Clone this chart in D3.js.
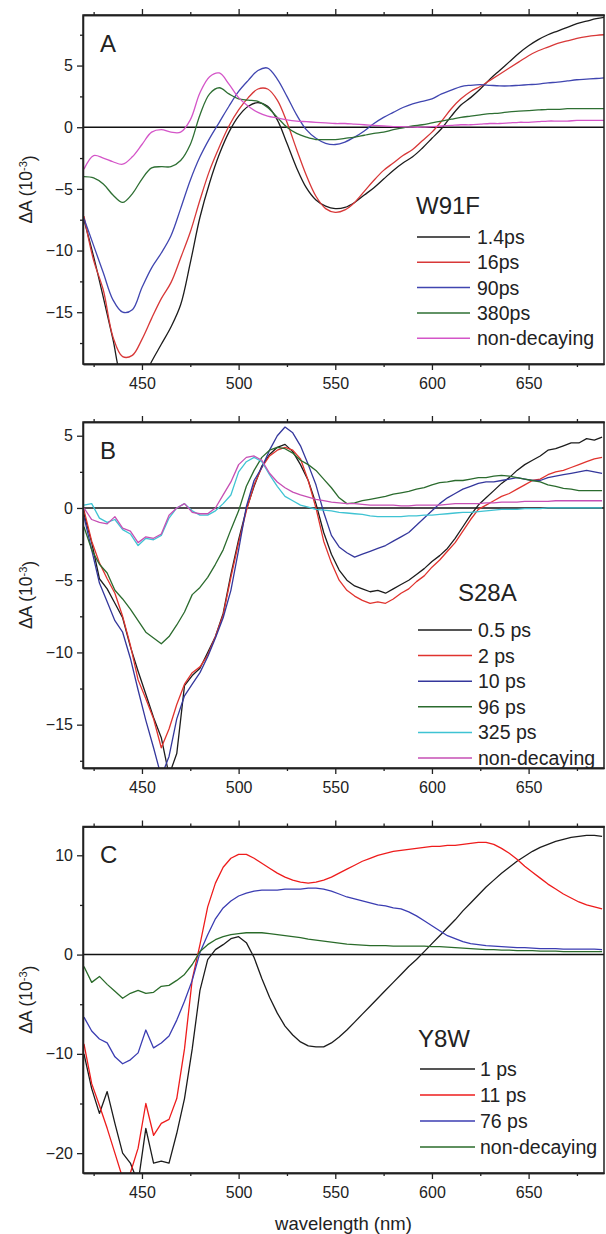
<!DOCTYPE html>
<html>
<head>
<meta charset="utf-8">
<script src="https://cdn.jsdelivr.net/npm/d3@7"></script>
<style>
  body { margin: 0; background: #fff; }
  text { font-family: "Liberation Sans", Arial, sans-serif; fill: #222; }
  .axis path, .axis line { stroke: #222; stroke-width: 1.3; }
</style>
</head>
<body>
<svg id="chart" width="606" height="1234"></svg>
<script>
// ---------- Panel A: W91F decay-associated spectra ----------
const waveA = [420,425,430,435,440,445,450,455,460,465,470,475,480,485,490,495,500,505,510,515,520,525,530,535,540,545,550,555,560,565,570,575,580,585,590,595,600,605,610,615,620,625,630,635,640,645,650,655,660,665,670,675,680,685,689];
const w91f_1_4ps = [-7.5,-10.5,-13.8,-17.2,-20.5,-21,-20.5,-19.0,-17.6,-16.2,-14.4,-11.0,-7.3,-4.5,-2.2,-0.4,0.9,1.7,2.0,1.7,0.6,-1.3,-3.3,-4.9,-5.9,-6.4,-6.6,-6.5,-6.1,-5.5,-4.9,-4.2,-3.5,-2.9,-2.4,-1.7,-0.9,-0.1,0.9,1.8,2.4,3.1,3.9,4.6,5.3,6.0,6.6,7.1,7.5,7.8,8.1,8.4,8.6,8.8,8.9];
const w91f_16ps = [-7.2,-10.8,-13.2,-17.0,-18.6,-18.5,-17.2,-15.5,-13.9,-12.6,-10.6,-8.5,-5.9,-3.5,-1.6,0.1,1.4,2.4,3.1,3.1,2.2,0.4,-1.8,-3.9,-5.6,-6.6,-6.9,-6.7,-6.1,-5.2,-4.3,-3.5,-2.9,-2.3,-1.8,-1.1,-0.4,0.5,1.5,2.3,2.9,3.3,3.8,4.3,4.8,5.3,5.8,6.2,6.5,6.8,7.0,7.2,7.35,7.45,7.5];
const w91f_90ps = [-7.4,-9.6,-11.8,-14.0,-15.0,-14.8,-13.0,-11.4,-10.2,-8.8,-6.6,-4.3,-2.4,-0.9,0.4,1.7,2.9,3.8,4.6,4.8,3.9,2.5,1.0,-0.2,-0.9,-1.3,-1.4,-1.2,-0.8,-0.3,0.3,0.8,1.2,1.6,1.9,2.1,2.3,2.7,3.0,3.3,3.4,3.45,3.4,3.35,3.35,3.4,3.45,3.5,3.6,3.65,3.75,3.85,3.9,3.95,4.0];
const w91f_380ps = [-4.0,-4.1,-4.6,-5.5,-6.1,-5.4,-4.2,-3.3,-3.2,-3.2,-2.7,-1.4,1.0,2.7,3.2,2.7,2.3,2.2,2.1,1.6,0.8,0.0,-0.5,-0.8,-1.0,-1.0,-1.0,-0.9,-0.8,-0.65,-0.5,-0.4,-0.2,-0.05,0.1,0.2,0.35,0.5,0.65,0.8,0.9,1.0,1.1,1.15,1.25,1.3,1.35,1.4,1.45,1.45,1.5,1.5,1.5,1.5,1.5];
const w91f_nondecaying = [-3.4,-2.3,-2.5,-2.8,-3.0,-2.4,-1.4,-0.4,-0.2,-0.4,-0.4,0.6,2.8,4.1,4.4,3.5,2.4,1.7,1.2,0.9,0.75,0.6,0.5,0.45,0.4,0.35,0.3,0.3,0.25,0.2,0.15,0.1,0.05,0.05,0.0,0.0,0.05,0.1,0.15,0.2,0.2,0.25,0.3,0.3,0.35,0.4,0.4,0.45,0.5,0.5,0.5,0.55,0.55,0.55,0.55];
const labelsA = ["1.4ps","16ps","90ps","380ps","non-decaying"];

// ---------- Panel B: S28A ----------
const waveB = [420,424,428,432,436,440,444,448,452,456,460,464,468,472,476,480,484,488,492,496,500,504,508,512,516,520,524,528,532,536,540,544,548,552,556,560,564,568,572,576,580,584,588,592,596,600,604,608,612,616,620,624,628,632,636,640,644,648,652,656,660,664,668,672,676,680,684,688];
const s28a_0_5ps = [-0.4,-2.4,-4.9,-5.6,-6.6,-7.6,-9.6,-11.3,-12.9,-14.5,-15.9,-18.5,-17.0,-12.3,-11.6,-11.1,-10.0,-8.9,-7.3,-4.6,-2.2,-0.1,1.5,2.9,3.7,4.2,4.4,3.9,3.0,1.9,0.3,-1.7,-3.2,-4.3,-5.0,-5.4,-5.6,-5.8,-5.7,-5.9,-5.6,-5.3,-5.0,-4.6,-4.2,-3.7,-3.3,-2.8,-2.1,-1.3,-0.5,0.2,0.7,1.2,1.7,2.1,2.6,3.0,3.3,3.6,4.0,4.1,4.3,4.5,4.5,4.8,4.7,4.9];
const s28a_2ps = [-0.15,-2.3,-3.8,-4.9,-5.9,-7.5,-9.5,-11.9,-13.2,-14.6,-16.6,-15.3,-13.6,-12.2,-11.4,-11.0,-10.2,-8.9,-7.4,-4.8,-2.4,-0.2,1.6,2.8,3.6,4.0,4.2,4.0,3.4,1.9,0.0,-2.3,-3.8,-5.0,-5.7,-6.1,-6.4,-6.6,-6.5,-6.6,-6.3,-5.9,-5.6,-5.1,-4.7,-4.1,-3.6,-3.0,-2.4,-1.6,-0.8,-0.1,0.2,0.5,0.8,1.0,1.3,1.6,1.9,2.0,2.3,2.5,2.6,2.8,3.0,3.2,3.4,3.5];
const s28a_10ps = [-0.6,-2.9,-5.2,-6.5,-7.8,-8.6,-10.4,-12.6,-14.7,-16.6,-18.6,-17.2,-14.6,-13.0,-12.2,-11.4,-10.3,-9.0,-7.6,-5.7,-2.9,0.1,1.9,2.8,4.0,5.0,5.6,5.2,4.3,3.0,1.6,-0.3,-1.9,-2.7,-3.1,-3.4,-3.2,-3.0,-2.8,-2.6,-2.3,-2.0,-1.7,-1.2,-0.7,-0.2,0.3,0.7,1.0,1.3,1.5,1.7,1.8,1.8,1.9,2.0,2.1,2.0,1.9,1.9,2.1,2.2,2.3,2.4,2.5,2.6,2.5,2.4];
const s28a_96ps = [-1.3,-2.9,-3.9,-4.5,-5.7,-6.3,-7.0,-7.8,-8.6,-9.0,-9.4,-8.9,-8.1,-7.2,-6.0,-5.5,-4.8,-3.9,-2.9,-1.5,-0.2,1.5,2.6,3.5,4.0,4.2,4.1,3.8,3.3,3.0,2.6,2.0,1.4,0.7,0.3,0.35,0.5,0.6,0.7,0.8,0.95,1.05,1.15,1.3,1.4,1.6,1.75,1.8,1.9,1.9,2.0,2.1,2.1,2.2,2.25,2.2,2.1,2.0,1.9,1.8,1.6,1.5,1.35,1.3,1.2,1.2,1.2,1.2];
const s28a_325ps = [0.2,0.3,-0.7,-1.0,-0.8,-1.5,-1.8,-2.6,-2.1,-2.2,-1.9,-0.7,0.0,0.3,-0.2,-0.5,-0.5,-0.2,0.3,0.9,2.5,3.2,3.5,3.2,2.3,1.5,0.8,0.5,0.2,0.05,-0.1,-0.15,-0.2,-0.3,-0.35,-0.4,-0.45,-0.55,-0.6,-0.6,-0.6,-0.6,-0.55,-0.55,-0.5,-0.5,-0.45,-0.4,-0.35,-0.3,-0.3,-0.25,-0.2,-0.15,-0.1,-0.1,-0.1,-0.05,-0.05,-0.05,0.0,0.0,0.0,0.0,0.0,0.0,0.0,0.0];
const s28a_nondecaying = [0.0,-0.8,-1.0,-1.1,-0.6,-1.4,-1.6,-2.4,-2.0,-2.1,-1.8,-0.5,0.0,0.3,-0.3,-0.4,-0.4,0.0,0.9,1.8,3.0,3.5,3.6,3.3,2.4,1.8,1.4,1.1,0.9,0.75,0.6,0.5,0.4,0.35,0.3,0.3,0.25,0.2,0.2,0.2,0.2,0.15,0.15,0.2,0.2,0.2,0.2,0.25,0.3,0.3,0.3,0.3,0.35,0.35,0.4,0.4,0.4,0.45,0.45,0.45,0.45,0.5,0.5,0.5,0.5,0.5,0.5,0.5];
const labelsB = ["0.5 ps","2 ps","10 ps","96 ps","325 ps","non-decaying"];

// ---------- Panel C: Y8W ----------
const waveC = waveB;
const y8w_1ps = [-10.0,-13.5,-16.0,-13.8,-17.0,-20.0,-21.0,-23.0,-17.5,-21.0,-20.8,-21.0,-18.0,-14.5,-9.5,-3.6,-0.5,0.5,1.0,1.6,1.8,1.2,-0.3,-2.4,-4.3,-5.9,-7.2,-8.1,-8.8,-9.2,-9.3,-9.3,-8.9,-8.3,-7.6,-6.8,-6.0,-5.2,-4.4,-3.6,-2.8,-2.0,-1.2,-0.5,0.3,1.1,1.9,2.7,3.5,4.4,5.2,6.0,6.8,7.5,8.2,8.8,9.4,9.9,10.4,10.8,11.1,11.4,11.6,11.8,11.9,12.0,12.0,11.9];
const y8w_11ps = [-9.0,-13.0,-15.2,-17.5,-20.0,-22.5,-22.0,-19.5,-15.0,-18.2,-17.0,-16.6,-14.5,-9.5,-2.5,1.0,4.8,7.2,8.8,9.7,10.1,10.1,9.7,9.2,8.7,8.2,7.8,7.5,7.3,7.2,7.3,7.5,7.8,8.2,8.6,9.0,9.4,9.7,10.0,10.2,10.4,10.5,10.6,10.7,10.8,10.9,10.9,11.0,11.0,11.1,11.2,11.3,11.3,11.1,10.7,10.2,9.6,8.9,8.3,7.7,7.1,6.6,6.1,5.7,5.3,5.0,4.8,4.6];
const y8w_76ps = [-6.3,-7.7,-8.5,-8.9,-10.3,-11.0,-10.6,-9.9,-7.6,-9.4,-8.9,-8.2,-6.6,-4.7,-2.6,0.2,2.0,3.6,4.7,5.4,5.9,6.2,6.4,6.5,6.5,6.5,6.6,6.6,6.6,6.7,6.7,6.6,6.4,6.1,5.8,5.6,5.4,5.2,5.0,4.9,4.7,4.6,4.3,3.9,3.4,2.9,2.4,1.9,1.6,1.3,1.1,1.0,0.9,0.85,0.8,0.75,0.7,0.7,0.65,0.6,0.6,0.6,0.55,0.55,0.55,0.55,0.55,0.5];
const y8w_nondecaying = [-1.2,-2.8,-2.2,-3.0,-3.7,-4.4,-3.9,-3.6,-3.9,-3.8,-3.2,-3.1,-2.6,-2.0,-1.0,0.3,1.0,1.5,1.8,2.0,2.1,2.2,2.2,2.2,2.1,2.0,1.9,1.8,1.7,1.55,1.45,1.35,1.25,1.15,1.05,1.0,0.95,0.9,0.9,0.9,0.85,0.85,0.85,0.85,0.85,0.8,0.8,0.75,0.7,0.65,0.6,0.55,0.5,0.5,0.45,0.45,0.4,0.4,0.4,0.35,0.35,0.35,0.3,0.3,0.3,0.3,0.3,0.3];
const labelsC = ["1 ps","11 ps","76 ps","non-decaying"];

// ---------- Shared axis ticks ----------
const xMajorTicks = [450,500,550,600,650];
const xMinorTicks = [425,475,525,575,625,675];

const panels = [
  {
    letter: "A", title: "W91F", top: 15, bottom: 364, yDomain: [-19.2, 9.1],
    yMajor: [-15,-10,-5,0,5], yMinor: [-17.5,-12.5,-7.5,-2.5,2.5,7.5],
    wave: waveA, curve: d3.curveCatmullRom,
    series: [w91f_1_4ps, w91f_16ps, w91f_90ps, w91f_380ps, w91f_nondecaying],
    labels: labelsA,
    colors: ["#1c1c1c","#d83838","#4046b0","#2e6f33","#d455c8"],
    legend: { titleX: 416, titleY: 205, x1: 417, x2: 470, tx: 477, y0: 237, dy: 25.3 }
  },
  {
    letter: "B", title: "S28A", top: 422, bottom: 768, yDomain: [-18, 5.95],
    yMajor: [-15,-10,-5,0,5], yMinor: [-17.5,-12.5,-7.5,-2.5,2.5],
    wave: waveB, curve: d3.curveLinear,
    series: [s28a_0_5ps, s28a_2ps, s28a_10ps, s28a_96ps, s28a_325ps, s28a_nondecaying],
    labels: labelsB,
    colors: ["#1c1c1c","#e0332e","#34379c","#2b6b2e","#3fc3d3","#c64fb4"],
    legend: { titleX: 458, titleY: 592, x1: 418, x2: 472, tx: 478, y0: 630, dy: 25.6 }
  },
  {
    letter: "C", title: "Y8W", top: 826.5, bottom: 1173, yDomain: [-22, 12.9],
    yMajor: [-20,-10,0,10], yMinor: [-15,-5,5],
    wave: waveC, curve: d3.curveLinear,
    series: [y8w_1ps, y8w_11ps, y8w_76ps, y8w_nondecaying],
    labels: labelsC,
    colors: ["#1c1c1c","#ee1c1c","#3b3db2","#2a6b2a"],
    legend: { titleX: 418, titleY: 1038, x1: 420, x2: 475, tx: 480, y0: 1069, dy: 26 }
  }
];

const svg = d3.select("#chart");
const left = 83, right = 604;
const x = d3.scaleLinear().domain([419.5, 689]).range([left, right]);

panels.forEach((p) => {
  const y = d3.scaleLinear().domain(p.yDomain).range([p.bottom, p.top]);
  const g = svg.append("g");

  const clipId = "clip" + p.letter;
  svg.append("clipPath").attr("id", clipId)
    .append("rect").attr("x", left).attr("y", p.top)
    .attr("width", right - left).attr("height", p.bottom - p.top);

  // zero line
  g.append("line")
    .attr("x1", left).attr("x2", right)
    .attr("y1", y(0)).attr("y2", y(0))
    .attr("stroke", "#111").attr("stroke-width", 1.5);

  // spectra
  const line = d3.line()
    .x((d, i) => x(p.wave[i]))
    .y(d => y(d))
    .curve(p.curve);
  const curves = g.append("g").attr("clip-path", `url(#${clipId})`);
  p.series.forEach((vals, si) => {
    curves.append("path")
      .attr("d", line(vals))
      .attr("fill", "none")
      .attr("stroke", p.colors[si])
      .attr("stroke-width", 1.3)
      .attr("stroke-linejoin", "round");
  });

  // axes: bottom (labelled) + top (ticks only), left (labelled)
  const axB = g.append("g").attr("class", "axis").attr("transform", `translate(0,${p.bottom})`);
  axB.call(d3.axisBottom(x).tickValues(xMajorTicks).tickSize(6).tickSizeOuter(0).tickPadding(8).tickFormat(d3.format("d")));
  axB.append("g").call(d3.axisBottom(x).tickValues(xMinorTicks).tickSize(3).tickSizeOuter(0).tickFormat(""));

  const axT = g.append("g").attr("class", "axis").attr("transform", `translate(0,${p.top})`);
  axT.call(d3.axisTop(x).tickValues(xMajorTicks).tickSize(6).tickSizeOuter(0).tickFormat(""));
  axT.append("g").call(d3.axisTop(x).tickValues(xMinorTicks).tickSize(3).tickSizeOuter(0).tickFormat(""));

  const axL = g.append("g").attr("class", "axis").attr("transform", `translate(${left},0)`);
  axL.call(d3.axisLeft(y).tickValues(p.yMajor).tickSize(6).tickSizeOuter(0).tickPadding(4).tickFormat(d3.format("d")));
  axL.append("g").call(d3.axisLeft(y).tickValues(p.yMinor).tickSize(3).tickSizeOuter(0).tickFormat(""));

  g.selectAll(".axis text").style("font-size", "16px").attr("fill", "#222");

  // frame
  g.append("rect")
    .attr("x", left).attr("y", p.top)
    .attr("width", right - left).attr("height", p.bottom - p.top)
    .attr("fill", "none").attr("stroke", "#222").attr("stroke-width", 1.5);

  // panel letter
  g.append("text").attr("x", 100).attr("y", p.top + 28)
    .attr("dy", "0.36em").style("font-size", "24px").text(p.letter);

  // y axis title
  const yt = g.append("text")
    .attr("transform", `translate(26,${(p.top + p.bottom) / 2}) rotate(-90)`)
    .attr("text-anchor", "middle").attr("dy", "0.36em")
    .style("font-size", "17.5px");
  yt.append("tspan").text("\u0394A (10");
  yt.append("tspan").attr("dy", "-0.45em").style("font-size", "11px").text("-3");
  yt.append("tspan").attr("dy", "0.45em").text(")");

  // legend
  const L = p.legend;
  g.append("text").attr("x", L.titleX).attr("y", L.titleY).attr("dy", "0.36em")
    .style("font-size", "24px").text(p.title);
  p.labels.forEach((lab, i) => {
    const yy = L.y0 + i * L.dy;
    g.append("line").attr("x1", L.x1).attr("x2", L.x2).attr("y1", yy).attr("y2", yy)
      .attr("stroke", p.colors[i]).attr("stroke-width", 1.5);
    g.append("text").attr("x", L.tx).attr("y", yy).attr("dy", "0.36em")
      .style("font-size", "19.5px").text(lab);
  });
});

// shared x axis title
svg.append("text").attr("x", (left + right) / 2).attr("y", 1230)
  .attr("text-anchor", "middle").style("font-size", "18.5px").text("wavelength (nm)");
</script>
</body>
</html>
